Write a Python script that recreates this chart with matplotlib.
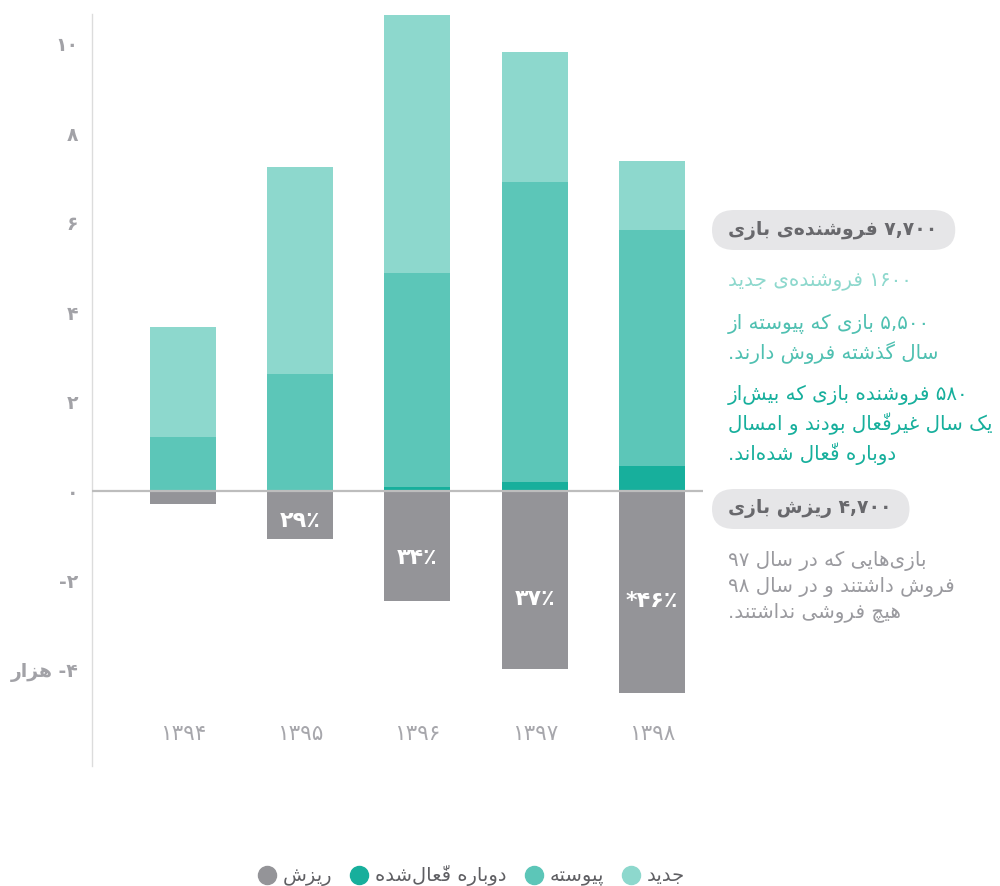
import re
import numpy as np
import matplotlib
matplotlib.use("Agg")
import matplotlib.pyplot as plt
from matplotlib.patches import FancyBboxPatch
from matplotlib.lines import Line2D

plt.rcParams['font.family'] = ['DejaVu Sans']

# ---------------------------------------------------------------- data (thousands)
years = ['۱۳۹۴', '۱۳۹۵', '۱۳۹۶', '۱۳۹۷', '۱۳۹۸']
reactivated = [0.0, 0.0, 0.08, 0.21, 0.55]
continuing = [1.22, 2.61, 4.79, 6.71, 5.30]
new = [2.44, 4.63, 5.77, 2.89, 1.54]
churn = [-0.30, -1.08, -2.47, -3.97, -4.51]
churn_labels = ['', '۲۹٪', '۳۴٪', '۳۷٪', '*۴۶٪']
y_ticks = [-4, -2, 0, 2, 4, 6, 8, 10]
y_tick_labels = ['-۴ هزار', '-۲', '۰', '۲', '۴', '۶', '۸', '۱۰']
series_names = ['جدید', 'پیوسته', 'دوباره فعّال‌شده', 'ریزش']

C_NEW, C_CONT, C_REACT, C_CHURN = '#8dd8cd', '#5cc6b8', '#17af9c', '#949498'

# ---------------------------------------------------------------- Persian shaping
_DUAL = {'ب': 0xFE8F, 'ت': 0xFE95, 'ث': 0xFE99, 'ج': 0xFE9D, 'ح': 0xFEA1,
         'خ': 0xFEA5, 'س': 0xFEB1, 'ش': 0xFEB5, 'ص': 0xFEB9, 'ض': 0xFEBD,
         'ط': 0xFEC1, 'ظ': 0xFEC5, 'ع': 0xFEC9, 'غ': 0xFECD, 'ف': 0xFED1,
         'ق': 0xFED5, 'ك': 0xFED9, 'ل': 0xFEDD, 'م': 0xFEE1, 'ن': 0xFEE5,
         'ه': 0xFEE9, 'ي': 0xFEF1, 'ئ': 0xFE89, 'پ': 0xFB56, 'چ': 0xFB7A,
         'ک': 0xFB8E, 'گ': 0xFB92, 'ی': 0xFBFC}
_RIGHT = {'آ': 0xFE81, 'أ': 0xFE83, 'ؤ': 0xFE85, 'إ': 0xFE87, 'ا': 0xFE8D,
          'ة': 0xFE93, 'د': 0xFEA9, 'ذ': 0xFEAB, 'ر': 0xFEAD, 'ز': 0xFEAF,
          'و': 0xFEED, 'ى': 0xFEEF, 'ژ': 0xFB8A}
_MARKS = set('\u064B\u064C\u064D\u064E\u064F\u0650\u0651\u0652')
_LAM_ALEF = {'ا': 0xFEFB, 'آ': 0xFEF5, 'أ': 0xFEF7, 'إ': 0xFEF9}
_NUM = re.compile(r'[-+*]?[0-9\u06F0-\u06F9][0-9\u06F0-\u06F9,]*\u066A?')
_RTL = re.compile(r'[\u0600-\u06EF\u200C\uFB50-\uFDFF\uFE70-\uFEFF]+')


def _is_letter(c):
    return c in _DUAL or c in _RIGHT


def _shape(s):
    chars = list(s)
    n = len(chars)
    out = []
    i = 0
    while i < n:
        c = chars[i]
        if not _is_letter(c):
            out.append(c)
            i += 1
            continue
        j = i - 1
        while j >= 0 and chars[j] in _MARKS:
            j -= 1
        joins_prev = j >= 0 and chars[j] in _DUAL
        k = i + 1
        while k < n and chars[k] in _MARKS:
            k += 1
        nxt = chars[k] if k < n else None
        if c == 'ل' and nxt in _LAM_ALEF:
            out.append(chr(_LAM_ALEF[nxt] + (1 if joins_prev else 0)))
            out.extend(chars[i + 1:k])
            i = k + 1
            continue
        if c in _DUAL:
            joins_next = nxt is not None and _is_letter(nxt)
            off = 3 if (joins_prev and joins_next) else 1 if joins_prev else 2 if joins_next else 0
            out.append(chr(_DUAL[c] + off))
        else:
            out.append(chr(_RIGHT[c] + (1 if joins_prev else 0)))
        i += 1
    return ''.join(out)


def _visual_line(text):
    shaped = _shape(text)
    runs = []
    i = 0
    while i < len(shaped):
        m = _NUM.match(shaped, i)
        if m:
            runs.append(m.group())
            i = m.end()
            continue
        m = _RTL.match(shaped, i)
        if m:
            clusters = []
            for ch in m.group():
                if ch in _MARKS and clusters:
                    clusters[-1] += ch
                else:
                    clusters.append(ch)
            runs.append(''.join(reversed(clusters)))
            i = m.end()
            continue
        runs.append(shaped[i])
        i += 1
    return ''.join(reversed(runs)).replace('\u200c', '')


def fa(text):
    return '\n'.join(_visual_line(line) for line in text.split('\n'))


# ---------------------------------------------------------------- figure
fig = plt.figure(figsize=(10, 8.86), dpi=100)
ax = fig.add_axes([0.092, 0.1354, 0.611, 0.8488])

x = np.arange(len(years))
w = 0.563
base_cont = np.array(reactivated)
base_new = base_cont + np.array(continuing)
ax.bar(x, reactivated, w, color=C_REACT, zorder=2)
ax.bar(x, continuing, w, bottom=base_cont, color=C_CONT, zorder=2)
ax.bar(x, new, w, bottom=base_new, color=C_NEW, zorder=2)
ax.bar(x, churn, w, color=C_CHURN, zorder=2)
ax.axhline(0, color='#bdbdbd', lw=1.6, zorder=3)

for xi, val, lab in zip(x, churn, churn_labels):
    if lab:
        ax.text(xi, max(val * 0.61, -2.45), fa(lab), ha='center', va='center',
                color='white', fontsize=16, fontweight='bold', zorder=4)

ax.set_xlim(-0.776, 4.435)
ax.set_ylim(-6.15, 10.67)
ax.set_yticks(y_ticks)
ax.set_yticklabels([fa(t) for t in y_tick_labels])
ax.set_xticks(x)
ax.set_xticklabels(years)
ax.tick_params(axis='y', length=0, pad=10, labelsize=13.5, labelcolor='#a2a2a7')
ax.tick_params(axis='x', length=0, pad=-30, labelsize=15.5, labelcolor='#a7a7ac')
for lab in ax.get_yticklabels():
    lab.set_fontweight('bold')
for side in ('top', 'right', 'bottom'):
    ax.spines[side].set_visible(False)
ax.spines['left'].set_color('#dcdcdc')
ax.spines['left'].set_linewidth(1.0)

# ---------------------------------------------------------------- side notes
H = 886.0
TX = 0.728


def note(y_px, text, color, size=14.3, weight='normal', spacing=1.42):
    return fig.text(TX, 1 - y_px / H, fa(text), ha='left', va='center',
                    color=color, fontsize=size, fontweight=weight,
                    linespacing=spacing, zorder=3)


t1 = note(230, '۷,۷۰۰ فروشنده‌ی بازی', '#68686c', size=13.5, weight='bold')
note(282, '۱۶۰۰ فروشنده‌ی جدید', C_NEW)
note(339, '۵,۵۰۰ بازی که پیوسته از\nسال گذشته فروش دارند.', '#4fc0b1')
note(425, '۵۸۰ فروشنده بازی که بیش‌از\nیک سال غیرفعّال بودند و امسال\nدوباره فعّال شده‌اند.', C_REACT)
t2 = note(509, '۴,۷۰۰ ریزش بازی', '#68686c', size=13.5, weight='bold')
note(587, 'بازی‌هایی که در سال ۹۷\nفروش داشتند و در سال ۹۸\nهیچ فروشی نداشتند.', '#9a9a9f')

fig.canvas.draw()
inv = fig.transFigure.inverted()
for t in (t1, t2):
    bb = t.get_window_extent()
    cy = (bb.y0 + bb.y1) / 2
    hpx = 40
    x0, y0 = inv.transform((bb.x0 - 16, cy - hpx / 2))
    x1, y1 = inv.transform((bb.x1 + 18, cy + hpx / 2))
    fig.add_artist(FancyBboxPatch((x0, y0), x1 - x0, y1 - y0,
                                  boxstyle=f"round,pad=0,rounding_size={(y1 - y0) / 2}",
                                  transform=fig.transFigure, facecolor='#e6e6e8',
                                  edgecolor='none', zorder=2))

# ---------------------------------------------------------------- legend
handles = [Line2D([], [], ls='none', marker='o', markersize=13, color=c)
           for c in (C_CHURN, C_REACT, C_CONT, C_NEW)]
labels = [fa(series_names[i]) for i in (3, 2, 1, 0)]
fig.legend(handles, labels, loc='center', bbox_to_anchor=(0.471, 1 - 876 / H),
           ncol=4, frameon=False, handletextpad=0.3, columnspacing=0.9,
           handlelength=1.0, prop={'size': 14},
           labelcolor='#5f5f63')

fig.savefig('out.png', dpi=100, facecolor='white')
